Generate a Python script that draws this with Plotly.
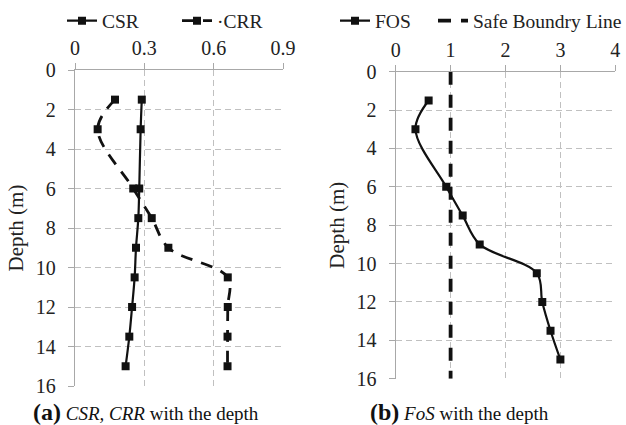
import plotly.graph_objects as go

depth = [1.5, 3, 6, 7.5, 9, 10.5, 12, 13.5, 15]
csr = [0.289, 0.284, 0.278, 0.274, 0.264, 0.258, 0.247, 0.235, 0.219]
crr = [0.173, 0.098, 0.252, 0.332, 0.404, 0.661, 0.661, 0.660, 0.660]
fos = [0.60, 0.36, 0.92, 1.22, 1.53, 2.57, 2.67, 2.82, 3.00]
safe_x = [1, 1]
safe_y = [0, 16]

ticks_a = [0, 0.3, 0.6, 0.9]
ticks_b = [0, 1, 2, 3, 4]
ticks_y = [0, 2, 4, 6, 8, 10, 12, 14, 16]

W, H = 626, 425
FONT = "Liberation Serif"
BLACK = "#111111"
GRID = "#c0c0c0"
AX = "#a8a8a8"

fig = go.Figure()

fig.add_trace(go.Scatter(x=csr, y=depth, mode="lines+markers", name="CSR",
                         line=dict(color=BLACK, width=2.2, shape="spline"),
                         marker=dict(symbol="square", size=8, color=BLACK),
                         xaxis="x", yaxis="y", legend="legend"))
fig.add_trace(go.Scatter(x=crr, y=depth, mode="lines+markers", name="·CRR",
                         line=dict(color=BLACK, width=2.8, shape="spline", dash="12px,9px"),
                         marker=dict(symbol="square", size=8, color=BLACK),
                         xaxis="x", yaxis="y", legend="legend"))
fig.add_trace(go.Scatter(x=fos, y=depth, mode="lines+markers", name="FOS",
                         line=dict(color=BLACK, width=2.2, shape="spline"),
                         marker=dict(symbol="square", size=8, color=BLACK),
                         xaxis="x2", yaxis="y2", legend="legend2"))
fig.add_trace(go.Scatter(x=safe_x, y=safe_y, mode="lines", name="Safe Boundry Line",
                         line=dict(color=BLACK, width=3.8, dash="13px,10px"),
                         xaxis="x2", yaxis="y2", legend="legend3"))

def xax(domain, ticks, rng, anchor):
    return dict(domain=domain, range=rng, tickvals=ticks, side="top", anchor=anchor,
                showgrid=True, gridcolor=GRID, griddash="6px,4px", gridwidth=1,
                showline=True, linecolor=AX, linewidth=1.3, mirror=False,
                ticks="outside", ticklen=6, tickcolor=AX, zeroline=False, automargin=False,
                tickfont=dict(family=FONT, size=20, color="#222"), fixedrange=True)

def yax(domain, anchor):
    return dict(domain=domain, range=[16, 0], tickvals=ticks_y, anchor=anchor,
                showgrid=True, gridcolor=GRID, griddash="6px,4px", gridwidth=1,
                showline=True, linecolor=AX, linewidth=1.3, automargin=False,
                ticks="outside", ticklen=6, tickcolor=AX, zeroline=False,
                ticklabelstandoff=8,
                tickfont=dict(family=FONT, size=20, color="#222"),
                title=dict(text="Depth (m)", font=dict(family=FONT, size=21, color="#222"), standoff=6))

LEGFONT = dict(family=FONT, size=19.5, color="#222")

fig.update_layout(
    width=W, height=H, margin=dict(l=0, r=0, t=0, b=0, autoexpand=False),
    paper_bgcolor="white", plot_bgcolor="white",
    font=dict(family=FONT, color="#222"),
    xaxis=xax([75/W, 283/W], ticks_a, [0, 0.9], "y"),
    yaxis=yax([1-386/H, 1-70/H], "x"),
    xaxis2=xax([395.7/W, 615.3/W], ticks_b, [0, 4], "y2"),
    yaxis2=yax([1-378.7/H, 1-71.7/H], "x2"),
    legend=dict(orientation="h", x=62/W, y=1-21/H, xanchor="left", yanchor="middle",
                font=LEGFONT, bgcolor="rgba(0,0,0,0)",
                itemwidth=30, entrywidth=70, entrywidthmode="pixels"),
    legend2=dict(orientation="h", x=335/W, y=1-21/H, xanchor="left", yanchor="middle",
                 font=LEGFONT, bgcolor="rgba(0,0,0,0)", itemwidth=30),
    legend3=dict(orientation="h", x=433/W, y=1-21/H, xanchor="left", yanchor="middle",
                 font=LEGFONT, bgcolor="rgba(0,0,0,0)", itemwidth=30),
    showlegend=True,
)

fig.add_annotation(xref="paper", yref="paper", x=145.5/W, y=1-412/H, showarrow=False,
                   xanchor="center", yanchor="middle",
                   text="<b><span style='font-size:24px'>(a)</span></b> <i>CSR, CRR</i> with the depth",
                   font=dict(family=FONT, size=19, color="#111"))
fig.add_annotation(xref="paper", yref="paper", x=459.5/W, y=1-412/H, showarrow=False,
                   xanchor="center", yanchor="middle",
                   text="<b><span style='font-size:24px'>(b)</span></b> <i>FoS</i> with the depth",
                   font=dict(family=FONT, size=19, color="#111"))

fig.write_html("out.html", config={"displayModeBar": False},
               post_script="document.body.style.margin='0';document.body.style.overflow='hidden';")
